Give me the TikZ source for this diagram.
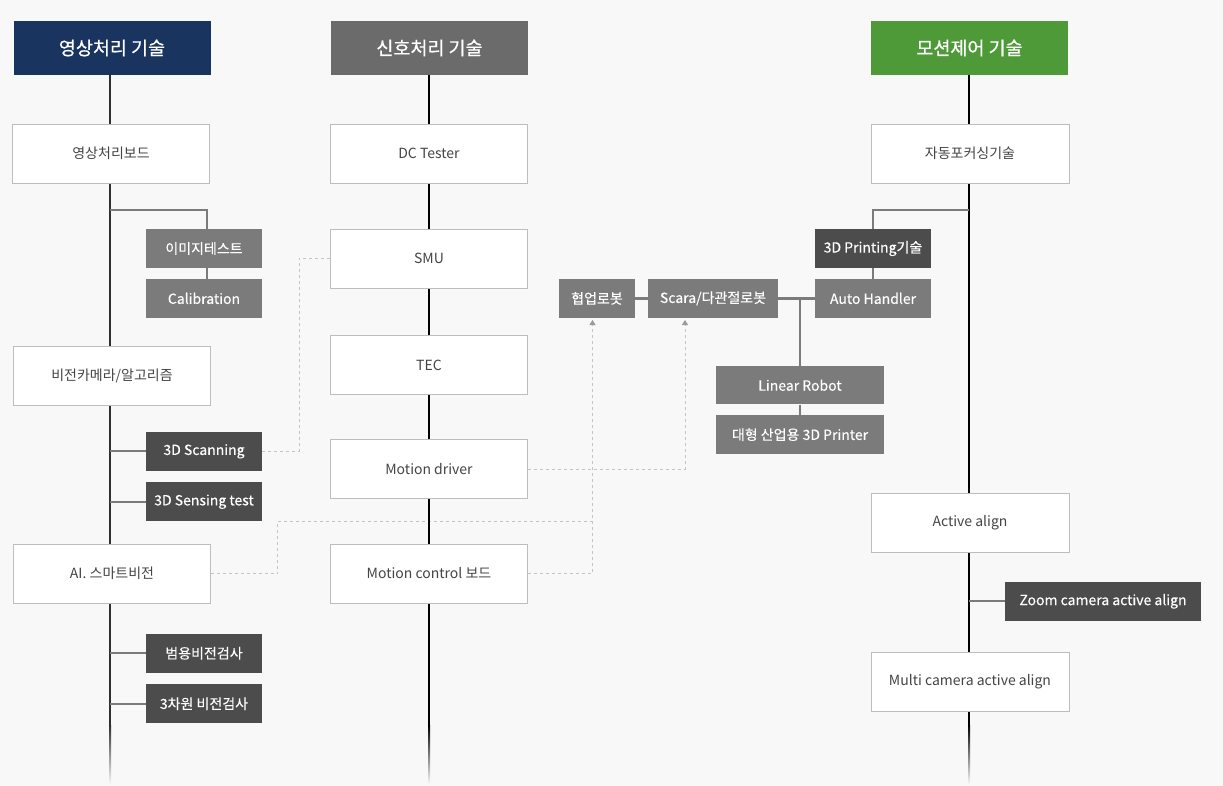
\documentclass[tikz,border=0pt]{standalone}
\usepackage{fontspec}
\setmainfont{Noto Sans CJK KR}
\newfontfamily\headfont{Noto Sans CJK KR}[FakeBold=0.6]
\newfontfamily\tagfont{Noto Sans CJK KR}[FakeBold=0.25]
\usetikzlibrary{arrows.meta,positioning,backgrounds}
\definecolor{bgc}{HTML}{F8F8F8}
\definecolor{navy}{HTML}{18345F}
\definecolor{hgray}{HTML}{6B6B6B}
\definecolor{hgreen}{HTML}{4F9A38}
\definecolor{boxline}{HTML}{BDBDBD}
\definecolor{txtc}{HTML}{444444}
\definecolor{midg}{HTML}{7B7B7B}
\definecolor{darkg}{HTML}{4C4C4C}
\definecolor{dashc}{HTML}{C4C4C4}
\definecolor{arrowc}{HTML}{9A9A9A}
\definecolor{spinec}{HTML}{2F2F2F}

\begin{document}
\begin{tikzpicture}[x=1pt,y=-1pt,
  head/.style={minimum width=197pt,minimum height=54pt,inner sep=0pt,text=white,font=\headfont\fontsize{18.5}{21}\selectfont},
  wbox/.style={draw=boxline,fill=white,minimum width=197pt,minimum height=59pt,inner sep=0pt,text=txtc,font=\fontsize{14}{17}\selectfont},
  gbox/.style={fill=midg,text=white,minimum width=116pt,minimum height=38.5pt,inner sep=0pt,font=\tagfont\fontsize{14}{17}\selectfont},
  dbox/.style={gbox,fill=darkg},
  spine/.style={line width=2pt,draw=black},
  branch/.style={line width=2.2pt,draw=midg},
  link/.style={dash pattern=on 3pt off 3pt,draw=dashc,line width=0.8pt},
  uparrow/.style={-{Triangle[width=6pt,length=5pt,color=arrowc]}}]
  \useasboundingbox (0,0) rectangle (1223,786);
  \node[head,fill=navy] (h1) at (112,48) {영상처리 기술};
  \node[head,fill=hgray] (h2) at (429.5,48) {신호처리 기술};
  \node[head,fill=hgreen] (h3) at (969.5,48) {모션제어 기술};
  \node[wbox] (a1) at (111,153.5) {영상처리보드};
  \node[wbox] (a2) at (112,375.5) {비전카메라/알고리즘};
  \node[wbox] (a3) at (112,573.5) {AI. 스마트비전};
  \node[gbox] (a4) at (204,248.5) {이미지테스트};
  \node[gbox,below=11pt of a4] (a5) {Calibration};
  \node[dbox] (a6) at (204,451.3) {3D Scanning};
  \node[dbox,below=11.5pt of a6] (a7) {3D Sensing test};
  \node[dbox] (a8) at (204,653.3) {범용비전검사};
  \node[dbox,below=11.5pt of a8] (a9) {3차원 비전검사};
  \node[wbox] (b1) at (429,153.5) {DC Tester};
  \node[wbox] (b2) at (429,258.5) {SMU};
  \node[wbox] (b3) at (429,365) {TEC};
  \node[wbox] (b4) at (429,469) {Motion driver};
  \node[wbox] (b5) at (429,573.5) {Motion control 보드};
  \node[wbox,minimum width=198pt] (c1) at (970,153.5) {자동포커싱기술};
  \node[wbox,minimum width=198pt] (c2) at (970,523) {Active align};
  \node[wbox,minimum width=198pt] (c3) at (970,682) {Multi camera active align};
  \node[dbox,minimum width=196pt] (c4) at (1103,601.3) {Zoom camera active align};
  \node[dbox] (c5) at (873,248.5) {3D Printing기술};
  \node[gbox,below=11pt of c5] (c6) {Auto Handler};
  \node[gbox,minimum width=130pt] (c7) at (713,298.4) {Scara/다관절로봇};
  \node[gbox,minimum width=76pt] (c8) at (597,298.4) {협업로봇};
  \node[gbox,minimum width=168pt] (c9) at (800,385.2) {Linear Robot};
  \node[gbox,minimum width=168pt,below=10.5pt of c9] (c10) {대형 산업용 3D Printer};
  \coordinate (k1) at (110,210);
  \coordinate (k3) at (969,210);
  \coordinate (j1) at (592.5,521);
  \coordinate (t1) at (592.5,320);
  \coordinate (t2) at (685,320);
  \coordinate (e1) at (110,725);
  \coordinate (f1) at (110,784);
  \coordinate (e2) at (429,725);
  \coordinate (f2) at (429,784);
  \coordinate (e3) at (969,725);
  \coordinate (f3) at (969,784);
  \draw[branch] (k1) -| ([xshift=3pt]a4.north);
  \draw[branch] ([xshift=3pt]a4.south) -- ([xshift=3pt]a5.north);
  \draw[branch] (a6.west) -- (a6.west -| k1);
  \draw[branch] (a7.west) -- (a7.west -| k1);
  \draw[branch] (a8.west) -- (a8.west -| k1);
  \draw[branch] (a9.west) -- (a9.west -| k1);
  \draw[branch] (c4.west) -- (c4.west -| k3);
  \draw[branch] (k3) -| (c5.north);
  \draw[branch] (c5) -- (c6);
  \draw[branch] (c8) -- (c7);
  \draw[branch] (c7) -- (c6);
  \draw[branch] (c9.north) -- (c9.north |- c7);
  \draw[branch] (c9) -- (c10);
  \begin{scope}[on background layer]
    \fill[bgc] (0,0) rectangle (1223,786);
    \draw[link] (a6.east) -- ++(37,0) |- (b2.west);
    \draw[link] (a3.east) -- ++(67,0) |- (j1);
    \draw[link,uparrow] (b5.east) -| (t1);
    \draw[link,uparrow] (b4.east) -| (t2);
    \draw[spine,draw=spinec] (h1.south -| e1) -- (e1);
    \draw[spine] (h2.south -| e2) -- (e2);
    \draw[spine] (h3.south -| e3) -- (e3);
    \shade[top color=spinec,bottom color=bgc] ([xshift=-1pt]e1) rectangle ([xshift=1pt]f1);
    \shade[top color=black,bottom color=bgc] ([xshift=-1pt]e2) rectangle ([xshift=1pt]f2);
    \shade[top color=black,bottom color=bgc] ([xshift=-1pt]e3) rectangle ([xshift=1pt]f3);
  \end{scope}
\end{tikzpicture}
\end{document}
